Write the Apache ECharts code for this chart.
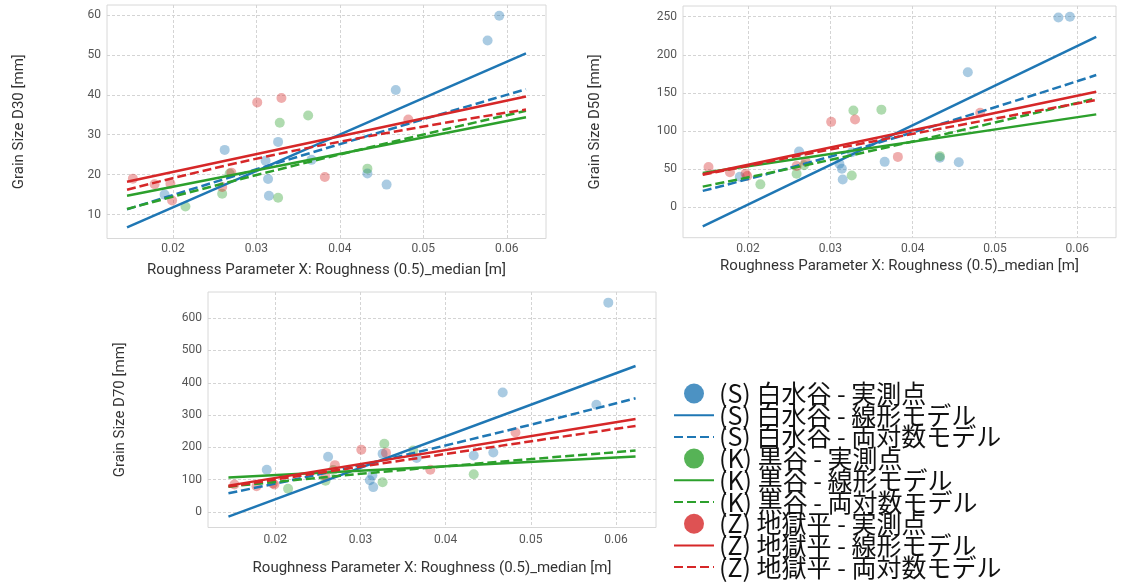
<!DOCTYPE html>
<html>
<head>
<meta charset="utf-8">
<script src="https://cdn.jsdelivr.net/npm/echarts@6/dist/echarts.min.js"></script>
<style>
html, body { margin: 0; padding: 0; background: #fff; }
#chart { width: 1121px; height: 583px; }
</style>
</head>
<body>
<div id="chart"></div>
<script>
// 実測点の X (Roughness (0.5)_median [m])
const xS = [0.0190, 0.0262, 0.0311, 0.0314, 0.0315, 0.0326, 0.0366, 0.0433, 0.0456, 0.0467, 0.0577, 0.0591];
const xK = [0.0215, 0.0259, 0.0268, 0.0326, 0.0328, 0.0362, 0.0433];
const xZ = [0.0152, 0.0178, 0.0197, 0.0199, 0.0259, 0.0270, 0.0301, 0.0330, 0.0382, 0.0482];

// D30
const d30S = [15.0, 26.2, 23.5, 18.9, 14.7, 28.2, 23.7, 20.3, 17.5, 41.2, 53.6, 59.8];
const d30K = [12.0, 15.2, 20.3, 14.2, 33.0, 34.8, 21.5];
const d30Z = [19.0, 17.6, 17.7, 13.5, 16.9, 20.5, 38.1, 39.2, 19.4, 33.8];
// D50
const d50S = [40, 73, 57, 50.4, 36.3, 72, 59.5, 65, 59, 177, 249, 250];
const d50K = [30, 44, 55, 41.6, 127, 128, 67];
const d50Z = [52.6, 46, 43.8, 41, 54, 60, 112, 115, 66, 124];
// D70
const d70S = [131, 171, 98, 114, 77, 180, 167, 175, 184, 370, 332, 648];
const d70K = [72, 97, 130, 92, 211, 190, 117];
const d70Z = [85, 80, 88, 85, 110, 145, 193, 183, 131, 246];

// モデル線 (線形: 両端, 両対数: 両端+中央)
const linX = [0.0145, 0.0623];
const logX = [0.0145, 0.035, 0.0623];
const d30LinS = [6.8, 50.4], d30LogS = [11.3, 24.5, 41.4];
const d30LinK = [14.7, 34.4], d30LogK = [11.4, 22.5, 36.0];
const d30LinZ = [18.2, 39.6], d30LogZ = [16.2, 26.2, 36.3];
const d50LinS = [-25.3, 223.6], d50LogS = [21.4, 82, 173.4];
const d50LinK = [45, 121.8], d50LogK = [27, 74, 142.8];
const d50LinZ = [43.2, 151.5], d50LogZ = [42.4, 86, 140.6];
const d70LinS = [-14.5, 452], d70LogS = [58, 175, 352];
const d70LinK = [106.4, 171.5], d70LogK = [78.5, 130, 190];
const d70LinZ = [81.6, 288], d70LogZ = [78.5, 160, 266.5];

const xTicks = [0.02, 0.03, 0.04, 0.05, 0.06];
const yTicks30 = [10, 20, 30, 40, 50, 60];
const yTicks50 = [0, 50, 100, 150, 200, 250];
const yTicks70 = [0, 100, 200, 300, 400, 500, 600];

const groups = [
    { tag: '(S) 白水谷', color: '#1f77b4' },
    { tag: '(K) 黒谷', color: '#2ca02c' },
    { tag: '(Z) 地獄平', color: '#d62728' },
];
const xs = [xS, xK, xZ];

const panels = [
    {
        grid: { left: 107, top: 5, width: 439, height: 233.5 },
        yMin: 4.0, yMax: 62.5, yTicks: yTicks30, yName: 'Grain Size D30 [mm]', xNameGap: 24, labelMargin: 4,
        pts: [d30S, d30K, d30Z], lin: [d30LinS, d30LinK, d30LinZ], log: [d30LogS, d30LogK, d30LogZ],
    },
    {
        grid: { left: 683, top: 6, width: 433, height: 231.7 },
        yMin: -40, yMax: 264, yTicks: yTicks50, yName: 'Grain Size D50 [mm]', xNameGap: 21, labelMargin: 5,
        pts: [d50S, d50K, d50Z], lin: [d50LinS, d50LinK, d50LinZ], log: [d50LogS, d50LogK, d50LogZ],
    },
    {
        grid: { left: 208, top: 292, width: 448, height: 235.5 },
        yMin: -48, yMax: 681, yTicks: yTicks70, yName: 'Grain Size D70 [mm]', xNameGap: 33, labelMargin: 6,
        pts: [d70S, d70K, d70Z], lin: [d70LinS, d70LinK, d70LinZ], log: [d70LogS, d70LogK, d70LogZ],
    },
];

const zip = (a, b) => a.map((v, i) => [v, b[i]]);
const axisFont = 'Roboto, "Noto Sans", sans-serif';
const splitLine = { show: true, lineStyle: { color: '#d4d4d4', width: 1, type: [3, 2] } };

let grid = [], xAxis = [], yAxis = [], series = [];
panels.forEach((p, i) => {
    grid.push(Object.assign({ show: true, borderColor: '#d8d8d8', borderWidth: 1, backgroundColor: '#fff' }, p.grid));
    xAxis.push({
        type: 'value', gridIndex: i, min: 0.0121, max: 0.0647,
        name: 'Roughness Parameter X: Roughness (0.5)_median [m]',
        nameLocation: 'middle', nameGap: p.xNameGap,
        nameTextStyle: { color: '#333', fontSize: 15, fontFamily: axisFont },
        axisLine: { show: false },
        axisTick: { show: false, customValues: xTicks },
        axisLabel: { customValues: xTicks, margin: p.labelMargin, color: '#555', fontSize: 12, fontFamily: axisFont,
            formatter: v => v.toFixed(2) },
        splitLine: splitLine,
    });
    yAxis.push({
        type: 'value', gridIndex: i, min: p.yMin, max: p.yMax,
        name: p.yName, nameLocation: 'middle', nameGap: 80, nameRotate: 90,
        nameTextStyle: { color: '#333', fontSize: 15, fontFamily: axisFont },
        axisLine: { show: false },
        axisTick: { show: false, customValues: p.yTicks },
        axisLabel: { customValues: p.yTicks, margin: 6, color: '#555', fontSize: 12, fontFamily: axisFont },
        splitLine: splitLine,
    });
    groups.forEach((g, k) => {
        series.push({
            name: g.tag + ' - 実測点', type: 'scatter', xAxisIndex: i, yAxisIndex: i,
            symbolSize: 10, data: zip(xs[k], p.pts[k]),
            itemStyle: { color: g.color, opacity: 0.38 }, z: 2,
        });
    });
    groups.forEach((g, k) => {
        series.push({
            name: g.tag + ' - 線形モデル', type: 'line', xAxisIndex: i, yAxisIndex: i,
            showSymbol: false, symbol: 'none', data: zip(linX, p.lin[k]),
            itemStyle: { color: g.color }, lineStyle: { color: g.color, width: 2.5 }, z: 3,
        });
        series.push({
            name: g.tag + ' - 両対数モデル', type: 'line', xAxisIndex: i, yAxisIndex: i,
            showSymbol: false, symbol: 'none', smooth: true, data: zip(logX, p.log[k]),
            itemStyle: { color: g.color }, lineStyle: { color: g.color, width: 2.5, type: [9, 4] }, z: 3,
        });
    });
});

// 凡例: 線のアイコンには記号を出さない
const legendData = [];
groups.forEach(g => {
    legendData.push({ name: g.tag + ' - 実測点', itemStyle: { opacity: 0.8 } });
    legendData.push({ name: g.tag + ' - 線形モデル', itemStyle: { opacity: 0 } });
    legendData.push({ name: g.tag + ' - 両対数モデル', itemStyle: { opacity: 0 } });
});

const chart = echarts.init(document.getElementById('chart'));
chart.setOption({
    animation: false,
    backgroundColor: '#fff',
    grid: grid,
    xAxis: xAxis,
    yAxis: yAxis,
    legend: {
        orient: 'vertical', left: 668, top: 376, height: 207,
        itemWidth: 40, itemHeight: 20, itemGap: -3.3,
        data: legendData,
        textStyle: { color: '#111', fontSize: 25, lineHeight: 22,
            fontFamily: '"Noto Sans CJK JP", sans-serif' },
    },
    series: series,
});
</script>
</body>
</html>
